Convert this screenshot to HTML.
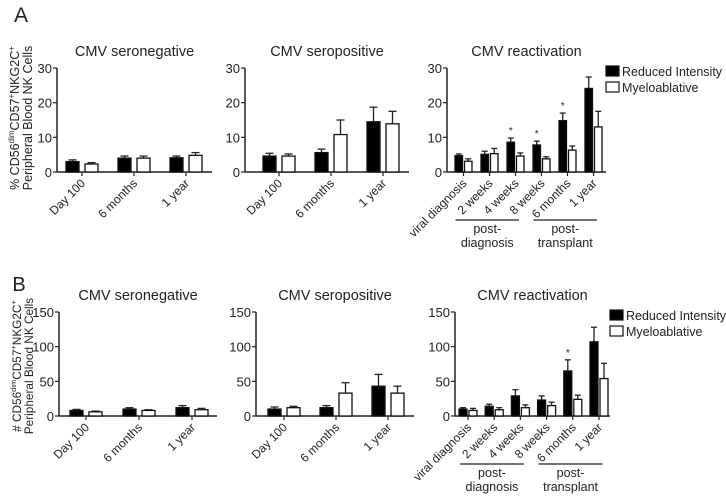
<!DOCTYPE html>
<html><head><meta charset="utf-8"><style>
body{margin:0;background:#fff}
svg{display:block;font-family:"Liberation Sans",sans-serif}
</style></head><body>
<svg id="fig" width="726" height="503"></svg>
<script>
const catsA=["Day 100","6 months","1 year"];
const catsR=["viral diagnosis","2 weeks","4 weeks","8 weeks","6 months","1 year"];
const negPctB=[3.0,4.0,4.1], negPctBE=[0.5,0.6,0.5], negPctW=[2.3,4.0,4.8], negPctWE=[0.4,0.6,0.8];
const posPctB=[4.6,5.6,14.5], posPctBE=[0.8,1.0,4.2], posPctW=[4.6,10.8,13.9], posPctWE=[0.6,4.2,3.6];
const reaPctB=[4.7,5.1,8.6,7.8,14.8,24.1], reaPctBE=[0.5,0.9,1.2,1.1,2.2,3.3];
const reaPctW=[3.1,5.3,4.6,3.8,6.3,13.0], reaPctWE=[0.7,1.5,0.9,0.6,1.2,4.5];
const reaPctStar=[false,false,true,true,true,false];
const negNumB=[8,10,12], negNumBE=[1.5,2,3], negNumW=[6,8,9], negNumWE=[1,1,2];
const posNumB=[10,12,43], posNumBE=[3,3,17], posNumW=[12,33,33], posNumWE=[2,15,10];
const reaNumB=[10,14,29,23,65,107], reaNumBE=[2,3,9,6,16,21];
const reaNumW=[8,9,12,15,24,54], reaNumWE=[3,3,4,5,6,22];
const reaNumStar=[false,false,false,false,true,false];
const ticksPct=[0,10,20,30], ticksNum=[0,50,100,150];

const NS="http://www.w3.org/2000/svg";
const svg=document.getElementById('fig');
function el(tag,attrs,parent,text){const e=document.createElementNS(NS,tag);for(const k in attrs)e.setAttribute(k,attrs[k]);if(text!==undefined)e.textContent=text;(parent||svg).appendChild(e);return e;}

function chart(o){
  const g=el('g',{});
  
  
  const ymax=o.ticks[o.ticks.length-1];
  const Y=v=>o.y0-(v/ymax)*(o.y0-o.yTop);
  const X=i=>o.c0+i*o.sp;
  const t=el('text',{x:(o.ax+o.axEnd)/2,y:o.yTop-12,'text-anchor':'middle','font-size':'14.5',fill:'#222'},g,o.title);
  
  
  el('line',{x1:o.ax,y1:o.yTop,x2:o.ax,y2:o.y0,stroke:'#222','stroke-width':1.5},g);
  el('line',{x1:o.ax,y1:o.y0,x2:o.axEnd,y2:o.y0,stroke:'#222','stroke-width':1.5},g);
  o.ticks.forEach(v=>{
    el('line',{x1:o.ax-4,y1:Y(v),x2:o.ax,y2:Y(v),stroke:'#222','stroke-width':1.2},g);
    const tl=el('text',{x:o.ax-5,y:Y(v)+5,'text-anchor':'end','font-size':'13',fill:'#222'},g,v);
    
    
  });
  o.cats.forEach((c,i)=>{
    const cx=X(i);
    el('line',{x1:cx,y1:o.y0,x2:cx,y2:o.y0+4,stroke:'#222','stroke-width':1.2},g);
    const tl=el('text',{x:cx+4,y:o.y0+12,'text-anchor':'end','font-size':'12',fill:'#222',transform:`rotate(-45 ${cx+4} ${o.y0+12})`},g,c);
    
    
    [[o.B,o.BE,'#000',-1],[o.W,o.WE,'#fff',1]].forEach(([vals,errs,fill,s])=>{
      const x=s<0?cx-o.gap/2-o.bw:cx+o.gap/2;
      const xc=x+o.bw/2, yv=Y(vals[i]), ye=Y(vals[i]+errs[i]);
      el('line',{x1:xc,y1:yv,x2:xc,y2:ye,stroke:'#222','stroke-width':1.3},g);
      el('line',{x1:xc-(o.bw<10?3:4),y1:ye,x2:xc+(o.bw<10?3:4),y2:ye,stroke:'#222','stroke-width':1.3},g);
      const r=el('rect',{x:x,y:yv,width:o.bw,height:o.y0-yv,fill:fill,stroke:'#111','stroke-width':1.3},g);
      
      
      if(s<0&&o.star&&o.star[i]) el('text',{x:xc,y:ye-4,'text-anchor':'middle','font-size':'10',fill:'#222'},g,'*');
    });
  });
  if(o.groups){
    [[0,2,'diagnosis'],[3,5,'transplant']].forEach(([a,b,w])=>{
      const x1=X(a)-8, x2=X(b)+3.5, yl=o.y0+48;
      el('line',{x1:x1,y1:yl,x2:x2,y2:yl,stroke:'#222','stroke-width':1.2},g);
      const cx=(x1+x2)/2;
      const t1=el('text',{x:cx,y:yl+13,'text-anchor':'middle','font-size':'12.5',fill:'#222'},g,'post-');
      
      
      el('text',{x:cx,y:yl+27,'text-anchor':'middle','font-size':'12.5',fill:'#222'},g,w);
    });
  }
  if(o.legend){
    const lx=o.axEnd, ly=o.yTop;
    [['#000','Reduced Intensity'],['#fff','Myeloablative']].forEach(([f,txt],k)=>{
      const lg=el('g',{},g);
      
      
      el('rect',{x:lx,y:ly-2+k*16,width:13,height:10,fill:f,stroke:'#111','stroke-width':1.2},lg);
      el('text',{x:lx+16,y:ly+8+k*16,'font-size':'12.5',fill:'#222'},lg,txt);
    });
  }
}

chart({name:'chart-a-seronegative',title:'CMV seronegative',ax:57,axEnd:212,yTop:68,y0:172,ticks:ticksPct,cats:catsA,c0:82,sp:52,bw:13,gap:6,B:negPctB,BE:negPctBE,W:negPctW,WE:negPctWE});
chart({name:'chart-a-seropositive',title:'CMV seropositive',ax:245,axEnd:409,yTop:68,y0:172,ticks:ticksPct,cats:catsA,c0:279,sp:52,bw:13,gap:6,B:posPctB,BE:posPctBE,W:posPctW,WE:posPctWE});
chart({name:'chart-a-reactivation',title:'CMV reactivation',ax:447,axEnd:606,yTop:68,y0:172,ticks:ticksPct,cats:catsR,c0:463.5,sp:26,bw:7.5,gap:2,B:reaPctB,BE:reaPctBE,W:reaPctW,WE:reaPctWE,star:reaPctStar,groups:true,legend:true});
chart({name:'chart-b-seronegative',title:'CMV seronegative',ax:59,axEnd:217,yTop:312,y0:416,ticks:ticksNum,cats:catsA,c0:86,sp:53,bw:13,gap:6,B:negNumB,BE:negNumBE,W:negNumW,WE:negNumWE});
chart({name:'chart-b-seropositive',title:'CMV seropositive',ax:256,axEnd:414,yTop:312,y0:416,ticks:ticksNum,cats:catsA,c0:284,sp:52,bw:13,gap:6,B:posNumB,BE:posNumBE,W:posNumW,WE:posNumWE});
chart({name:'chart-b-reactivation',title:'CMV reactivation',ax:455,axEnd:610,yTop:312,y0:416,ticks:ticksNum,cats:catsR,c0:468,sp:26.2,bw:8,gap:2,B:reaNumB,BE:reaNumBE,W:reaNumW,WE:reaNumWE,star:reaNumStar,groups:true,legend:true});
</script>
<script>
(function(){
const svg=document.getElementById('fig');const NS="http://www.w3.org/2000/svg";
function t(x,y,txt,size,name,rot){const e=document.createElementNS(NS,'text');e.setAttribute('x',x);e.setAttribute('y',y);e.setAttribute('font-size',size);e.setAttribute('fill','#222');e.setAttribute('text-anchor','middle');if(rot)e.setAttribute('transform',`rotate(-90 ${x} ${y})`);e.innerHTML=txt;


svg.appendChild(e);}
t(21,22,'A',21,'panel-label-a');
t(19,291,'B',20,'panel-label-b');
t(19,118,'% CD56<tspan font-size="8" dy="-5">dim</tspan><tspan dy="5">CD57</tspan><tspan font-size="8" dy="-5">+</tspan><tspan dy="5">NKG2C</tspan><tspan font-size="8" dy="-5">+</tspan>',12.5,'y-axis-title-a',true);
t(32,118,'Peripheral Blood NK Cells',12.5,'y-axis-title-a-line2',true);
t(21,366,'# CD56<tspan font-size="7.5" dy="-5">dim</tspan><tspan dy="5">CD57</tspan><tspan font-size="7.5" dy="-5">+</tspan><tspan dy="5">NKG2C</tspan><tspan font-size="7.5" dy="-5">+</tspan>',11.8,'y-axis-title-b',true);
t(33,366,'Peripheral Blood NK Cells',11.8,'y-axis-title-b-line2',true);
})();
</script>
</body></html>
